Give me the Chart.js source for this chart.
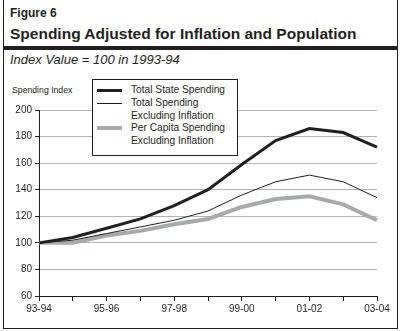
<!DOCTYPE html>
<html>
<head>
<meta charset="utf-8">
<script src="https://cdn.jsdelivr.net/npm/chart.js@4/dist/chart.umd.min.js"></script>
<style>
    body { margin: 0; background: #fff; font-family: "Liberation Sans", Arial, sans-serif; color: #231f20; }
    .frame { position: absolute; left: 3px; top: 0; width: 393px; height: 328px; border-left: 1px solid #231f20; border-right: 1px solid #231f20; border-bottom: 1px solid #231f20; }
    .fig { position: absolute; left: 10px; top: 6px; font-size: 12px; font-weight: bold; }
    .title { position: absolute; left: 10px; top: 25px; font-size: 15.5px; font-weight: bold; }
    .rule { position: absolute; left: 3px; top: 46px; width: 395px; height: 4px; background: #231f20; }
    .sub { position: absolute; left: 10px; top: 52px; font-size: 13px; font-style: italic; }
    .ytitle { position: absolute; left: 12px; top: 85px; font-size: 8.7px; }
    #wrap { position: absolute; left: 4px; top: 100px; width: 393px; height: 226px; }
    .legend { position: absolute; left: 92px; top: 79px; width: 144px; height: 75px; border: 1px solid #231f20; background: #fff; font-size: 10.2px; line-height: 12.8px; }
    .legend .row { position: absolute; left: 38px; white-space: nowrap; }
    .legend .swatch { position: absolute; left: -34px; top: 6px; width: 25px; }
</style>
</head>
<body>
<div class="frame"></div>
<div class="fig">Figure 6</div>
<div class="title">Spending Adjusted for Inflation and Population</div>
<div class="rule"></div>
<div class="sub">Index Value = 100 in 1993-94</div>
<div class="ytitle">Spending Index</div>
<div id="wrap"><canvas id="chart"></canvas></div>
<div class="legend" id="legend"></div>
<script>
    const years = ['93-94', '94-95', '95-96', '96-97', '97-98', '98-99', '99-00', '00-01', '01-02', '02-03', '03-04'];
    const seriesNames = [['Total State Spending'], ['Total Spending', 'Excluding Inflation'], ['Per Capita Spending', 'Excluding Inflation']];
    const totalState = [100, 104, 111, 118, 128, 140, 159, 177, 186, 183, 172];
    const totalReal = [100, 102, 107, 112, 117, 124, 136, 146, 151, 146, 134];
    const perCapita = [100, 100, 105.5, 109, 114, 118, 127, 133, 135, 129, 117];
    const yTicks = [60, 80, 100, 120, 140, 160, 180, 200];

    const colors = ['#231f20', '#231f20', '#a7aba7'];
    const widths = [3, 1, 4];
    const seriesData = [totalState, totalReal, perCapita];

    // legend drawn as html box over the plot
    const legendEl = document.getElementById('legend');
    let rowTop = 4;
    seriesNames.forEach((lines, i) => {
        const row = document.createElement('div');
        row.className = 'row';
        row.style.top = rowTop + 'px';
        row.innerHTML = lines.join('<br>') +
            `<span class="swatch" style="height:${widths[i]}px;margin-top:${-Math.floor(widths[i] / 2)}px;background:${colors[i]}"></span>`;
        legendEl.appendChild(row);
        rowTop += lines.length * 12.8;
    });

    new Chart(document.getElementById('chart'), {
        type: 'line',
        data: {
            labels: years,
            datasets: seriesData.map((d, i) => ({
                label: seriesNames[i].join(' '),
                data: d,
                borderColor: colors[i],
                borderWidth: widths[i],
                pointRadius: 0,
                tension: 0,
                fill: false
            }))
        },
        options: {
            responsive: true,
            maintainAspectRatio: false,
            animation: false,
            layout: { padding: { top: 10, right: 20, left: 0, bottom: 0 } },
            plugins: { legend: { display: false }, tooltip: { enabled: false } },
            scales: {
                x: {
                    afterFit: s => { s.height = 30; },
                    border: { color: '#231f20', width: 1 },
                    grid: { drawOnChartArea: false, tickLength: 5, color: '#231f20' },
                    ticks: {
                        autoSkip: false,
                        maxRotation: 0,
                        padding: 2,
                        color: '#231f20',
                        font: { family: 'Liberation Sans', size: 10 },
                        callback: (v, i) => i % 2 === 0 ? years[i] : ''
                    }
                },
                y: {
                    min: 60,
                    max: 200,
                    afterFit: s => { s.width = 35; },
                    afterBuildTicks: s => { s.ticks = yTicks.map(v => ({ value: v })); },
                    border: { color: '#231f20', width: 1 },
                    grid: { color: '#b4b4b4', tickColor: '#231f20', tickLength: 4 },
                    ticks: {
                        padding: 3,
                        color: '#231f20',
                        font: { family: 'Liberation Sans', size: 10 }
                    }
                }
            }
        }
    });
</script>
</body>
</html>
